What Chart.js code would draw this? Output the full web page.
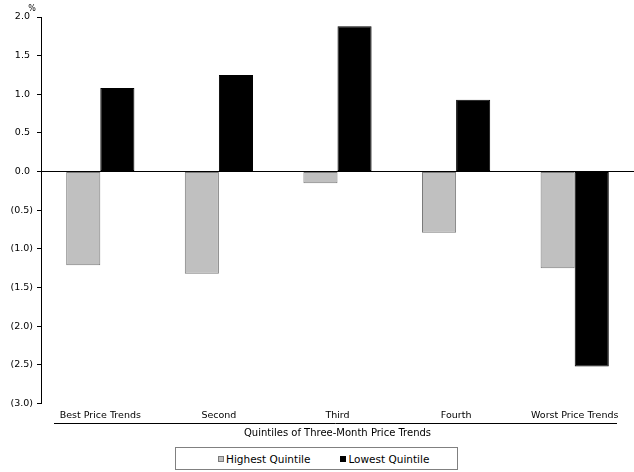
<!DOCTYPE html>
<html lang="en">
<head>
<meta charset="UTF-8" />
<title>Quintiles of Three-Month Price Trends</title>
<script src="https://cdn.jsdelivr.net/npm/chart.js"></script>
<style>
  * { margin: 0; padding: 0; box-sizing: border-box; }
  body { background: #fff; width: 634px; height: 472px; overflow: hidden; font-family: 'DejaVu Sans', sans-serif; }
  .wrap { position: absolute; left: 0; top: 0; width: 634px; height: 445px; }
  .legend {
    position: absolute; left: 175px; top: 447px; width: 283px; height: 23px;
    border: 1px solid #808080;
    display: flex; align-items: center; padding-left: 42px; gap: 30px;
    font-size: 10.5px; color: #000;
  }
  .legend-item { display: flex; align-items: center; white-space: nowrap; }
  .legend-box { width: 6px; height: 6px; margin-right: 2px; border: 1px solid; }
</style>
</head>
<body>
<div class="wrap"><canvas id="chart"></canvas></div>
<div class="legend" id="legend"></div>
<script>
const categories = ["Best Price Trends", "Second", "Third", "Fourth", "Worst Price Trends"];
const highestQuintile = [-1.21, -1.32, -0.15, -0.79, -1.25];
const lowestQuintile = [1.08, 1.25, 1.88, 0.93, -2.52];
const yTicks = { min: -3.0, max: 2.0, step: 0.5 };

const FONT = "'DejaVu Sans', sans-serif";

// negatives in brackets, positives with a trailing space so digits line up
function fmt(v) {
  return v < 0 ? "(" + Math.abs(v).toFixed(1) + ")" : v.toFixed(1) + " ";
}

// % sign above the axis and the rule under the category names
const decor = {
  id: "decor",
  afterDraw(chart) {
    const ctx = chart.ctx;
    const y = chart.scales.y, x = chart.scales.x;
    ctx.save();
    ctx.fillStyle = "#000";
    ctx.font = "8px " + FONT;
    ctx.textAlign = "center";
    ctx.textBaseline = "middle";
    ctx.fillText("%", y.right - 9, y.top - 8);

    ctx.strokeStyle = "#000";
    ctx.lineWidth = 1;
    const ly = Math.round(x.top + 19) + 0.5;
    ctx.beginPath();
    ctx.moveTo(x.left + 13, ly);
    ctx.lineTo(x.right - 17, ly);
    ctx.stroke();
    ctx.restore();
  }
};

const chart = new Chart(document.getElementById("chart"), {
  type: "bar",
  data: {
    labels: categories,
    datasets: [
      {
        label: "Highest Quintile",
        data: highestQuintile,
        backgroundColor: "#c0c0c0",
        borderColor: "#7a7a7a",
        borderWidth: 1,
        borderSkipped: false
      },
      {
        label: "Lowest Quintile",
        data: lowestQuintile,
        backgroundColor: "#000",
        borderColor: "#000",
        borderWidth: 1,
        borderSkipped: false
      }
    ]
  },
  options: {
    responsive: true,
    maintainAspectRatio: false,
    animation: false,
    layout: { padding: { top: 17, right: 0, left: 0, bottom: 0 } },
    datasets: { bar: { categoryPercentage: 0.575, barPercentage: 1.0 } },
    scales: {
      x: {
        afterFit(scale) { scale.height = 41.5; },
        grid: { display: false, drawTicks: false },
        border: { display: false },
        ticks: { color: "#000", font: { family: FONT, size: 9.5 }, padding: 6, maxRotation: 0, autoSkip: false },
        title: {
          display: true,
          text: "Quintiles of Three-Month Price Trends",
          color: "#000",
          font: { family: FONT, size: 10 },
          padding: { top: 0, bottom: 6 }
        }
      },
      y: {
        min: yTicks.min,
        max: yTicks.max,
        afterFit(scale) { scale.width = 41; },
        ticks: {
          stepSize: yTicks.step,
          color: "#000",
          font: { family: FONT, size: 9.5 },
          padding: 4,
          callback: v => fmt(v)
        },
        border: { display: true, color: "#000", width: 1 },
        grid: {
          drawOnChartArea: true,
          color: c => (c.tick && c.tick.value === 0 ? "#000" : "rgba(0,0,0,0)"),
          tickColor: "#000",
          tickLength: 4
        }
      }
    },
    plugins: {
      legend: { display: false },
      tooltip: { enabled: false }
    }
  },
  plugins: [decor]
});

// html legend built from the datasets
const legendEl = document.getElementById("legend");
chart.data.datasets.forEach(ds => {
  const item = document.createElement("div");
  item.className = "legend-item";
  item.innerHTML = `<span class="legend-box" style="background:${ds.backgroundColor};border-color:${ds.borderColor}"></span>${ds.label}`;
  legendEl.appendChild(item);
});
</script>
</body>
</html>
